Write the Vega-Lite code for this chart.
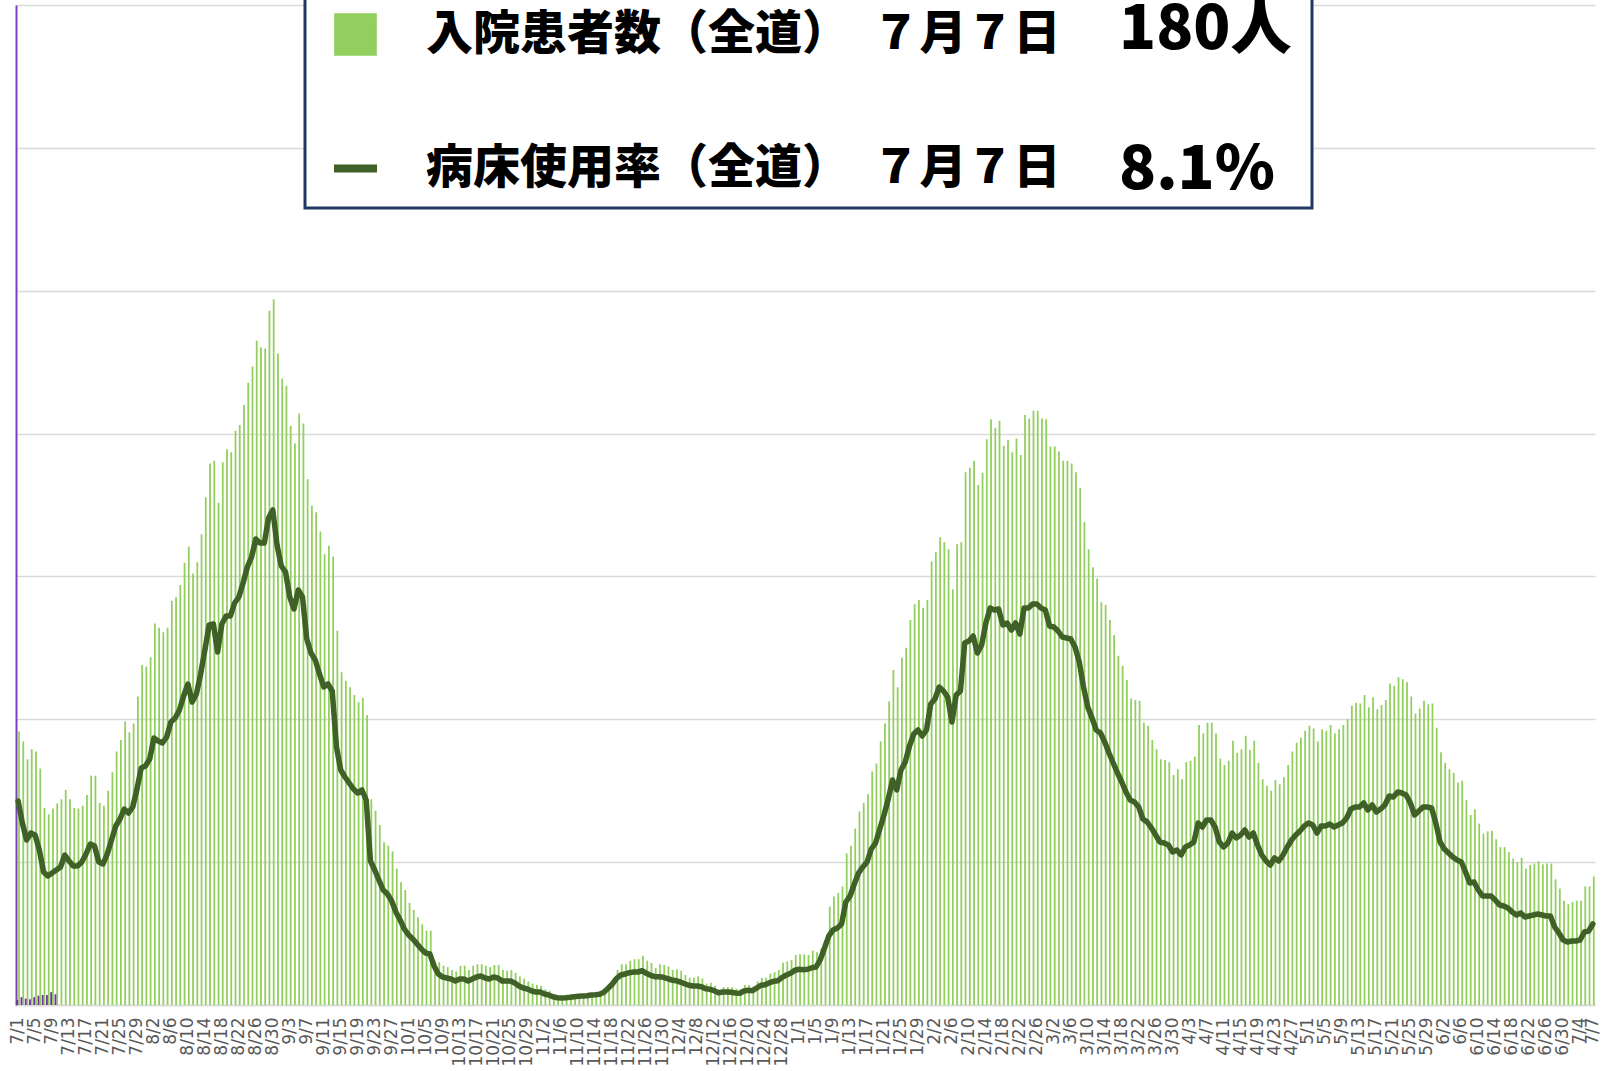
{
  "$schema": "https://vega.github.io/schema/vega-lite/v6.json",
  "width": 1579,
  "height": 1000,
  "autosize": {"type": "none"},
  "padding": {"left": 16, "top": 5, "right": 14, "bottom": 66},
  "background": "white",
  "config": {"view": {"stroke": null}, "font": "DejaVu Sans"},
  "datasets": {"main": [
{"d":"2021-07-01","b":383,"l":20.4,"p":7},{"d":"2021-07-02","b":369,"l":18.2,"p":11},{"d":"2021-07-03","b":344,"l":16.5,"p":9},{"d":"2021-07-04","b":358,"l":17.2,"p":8},{"d":"2021-07-05","b":355,"l":17.0,"p":11},{"d":"2021-07-06","b":331,"l":15.5,"p":13},{"d":"2021-07-07","b":276,"l":13.3,"p":14},{"d":"2021-07-08","b":267,"l":12.9,"p":14},{"d":"2021-07-09","b":275,"l":13.2,"p":18},{"d":"2021-07-10","b":282,"l":13.5,"p":15},
{"d":"2021-07-11","b":288,"l":13.8},{"d":"2021-07-12","b":301,"l":15.0},{"d":"2021-07-13","b":288,"l":14.4},{"d":"2021-07-14","b":276,"l":13.9},{"d":"2021-07-15","b":275,"l":13.9},{"d":"2021-07-16","b":279,"l":14.3},{"d":"2021-07-17","b":294,"l":15.1},{"d":"2021-07-18","b":321,"l":16.1},{"d":"2021-07-19","b":321,"l":15.9},{"d":"2021-07-20","b":283,"l":14.3},
{"d":"2021-07-21","b":279,"l":14.1},{"d":"2021-07-22","b":300,"l":15.1},{"d":"2021-07-23","b":326,"l":16.5},{"d":"2021-07-24","b":355,"l":17.9},{"d":"2021-07-25","b":371,"l":18.6},{"d":"2021-07-26","b":397,"l":19.6},{"d":"2021-07-27","b":382,"l":19.2},{"d":"2021-07-28","b":394,"l":19.8},{"d":"2021-07-29","b":432,"l":21.6},{"d":"2021-07-30","b":476,"l":23.7},{"d":"2021-07-31","b":474,"l":23.9},
{"d":"2021-08-01","b":487,"l":24.6},{"d":"2021-08-02","b":534,"l":26.7},{"d":"2021-08-03","b":528,"l":26.4},{"d":"2021-08-04","b":522,"l":26.2},{"d":"2021-08-05","b":528,"l":26.8},{"d":"2021-08-06","b":566,"l":28.3},{"d":"2021-08-07","b":571,"l":28.7},{"d":"2021-08-08","b":588,"l":29.5},{"d":"2021-08-09","b":619,"l":30.9},{"d":"2021-08-10","b":642,"l":32.1},
{"d":"2021-08-11","b":604,"l":30.3},{"d":"2021-08-12","b":620,"l":31.1},{"d":"2021-08-13","b":659,"l":33.1},{"d":"2021-08-14","b":711,"l":35.5},{"d":"2021-08-15","b":758,"l":38.0},{"d":"2021-08-16","b":762,"l":38.1},{"d":"2021-08-17","b":703,"l":35.3},{"d":"2021-08-18","b":760,"l":38.1},{"d":"2021-08-19","b":778,"l":38.9},{"d":"2021-08-20","b":774,"l":38.9},
{"d":"2021-08-21","b":804,"l":40.2},{"d":"2021-08-22","b":812,"l":40.8},{"d":"2021-08-23","b":840,"l":42.2},{"d":"2021-08-24","b":871,"l":43.8},{"d":"2021-08-25","b":894,"l":44.8},{"d":"2021-08-26","b":930,"l":46.6},{"d":"2021-08-27","b":921,"l":46.2},{"d":"2021-08-28","b":919,"l":46.2},{"d":"2021-08-29","b":972,"l":48.7},{"d":"2021-08-30","b":988,"l":49.5},{"d":"2021-08-31","b":912,"l":46.0},
{"d":"2021-09-01","b":877,"l":43.9},{"d":"2021-09-02","b":867,"l":43.3},{"d":"2021-09-03","b":811,"l":40.8},{"d":"2021-09-04","b":786,"l":39.6},{"d":"2021-09-05","b":828,"l":41.5},{"d":"2021-09-06","b":814,"l":40.8},{"d":"2021-09-07","b":736,"l":36.6},{"d":"2021-09-08","b":699,"l":35.2},{"d":"2021-09-09","b":690,"l":34.5},{"d":"2021-09-10","b":663,"l":33.1},
{"d":"2021-09-11","b":631,"l":31.8},{"d":"2021-09-12","b":643,"l":32.1},{"d":"2021-09-13","b":628,"l":31.4},{"d":"2021-09-14","b":524,"l":25.8},{"d":"2021-09-15","b":466,"l":23.5},{"d":"2021-09-16","b":454,"l":22.8},{"d":"2021-09-17","b":445,"l":22.2},{"d":"2021-09-18","b":434,"l":21.6},{"d":"2021-09-19","b":424,"l":21.2},{"d":"2021-09-20","b":430,"l":21.5},
{"d":"2021-09-21","b":406,"l":20.5},{"d":"2021-09-22","b":288,"l":14.4},{"d":"2021-09-23","b":272,"l":13.5},{"d":"2021-09-24","b":252,"l":12.5},{"d":"2021-09-25","b":228,"l":11.5},{"d":"2021-09-26","b":223,"l":11.1},{"d":"2021-09-27","b":215,"l":10.4},{"d":"2021-09-28","b":191,"l":9.3},{"d":"2021-09-29","b":172,"l":8.5},{"d":"2021-09-30","b":161,"l":7.6},
{"d":"2021-10-01","b":143,"l":7.0},{"d":"2021-10-02","b":133,"l":6.6},{"d":"2021-10-03","b":123,"l":6.1},{"d":"2021-10-04","b":113,"l":5.6},{"d":"2021-10-05","b":104,"l":5.2},{"d":"2021-10-06","b":104,"l":5.1},{"d":"2021-10-07","b":61,"l":3.9},{"d":"2021-10-08","b":60,"l":3.1},{"d":"2021-10-09","b":55,"l":2.8},{"d":"2021-10-10","b":53,"l":2.7},
{"d":"2021-10-11","b":49,"l":2.6},{"d":"2021-10-12","b":47,"l":2.4},{"d":"2021-10-13","b":55,"l":2.6},{"d":"2021-10-14","b":55,"l":2.6},{"d":"2021-10-15","b":49,"l":2.4},{"d":"2021-10-16","b":55,"l":2.6},{"d":"2021-10-17","b":57,"l":2.8},{"d":"2021-10-18","b":57,"l":2.9},{"d":"2021-10-19","b":55,"l":2.7},{"d":"2021-10-20","b":53,"l":2.6},
{"d":"2021-10-21","b":56,"l":2.8},{"d":"2021-10-22","b":56,"l":2.7},{"d":"2021-10-23","b":49,"l":2.4},{"d":"2021-10-24","b":48,"l":2.4},{"d":"2021-10-25","b":49,"l":2.4},{"d":"2021-10-26","b":45,"l":2.2},{"d":"2021-10-27","b":40,"l":1.9},{"d":"2021-10-28","b":37,"l":1.7},{"d":"2021-10-29","b":33,"l":1.6},{"d":"2021-10-30","b":30,"l":1.4},{"d":"2021-10-31","b":28,"l":1.3},
{"d":"2021-11-01","b":27,"l":1.3},{"d":"2021-11-02","b":22,"l":1.1},{"d":"2021-11-03","b":20,"l":1.0},{"d":"2021-11-04","b":12,"l":0.83},{"d":"2021-11-05","b":10,"l":0.73},{"d":"2021-11-06","b":10,"l":0.7},{"d":"2021-11-07","b":11,"l":0.73},{"d":"2021-11-08","b":12,"l":0.77},{"d":"2021-11-09","b":13,"l":0.83},{"d":"2021-11-10","b":14,"l":0.87},
{"d":"2021-11-11","b":14,"l":0.9},{"d":"2021-11-12","b":15,"l":0.93},{"d":"2021-11-13","b":15,"l":1.0},{"d":"2021-11-14","b":16,"l":1.03},{"d":"2021-11-15","b":17,"l":1.07},{"d":"2021-11-16","b":23,"l":1.27},{"d":"2021-11-17","b":28,"l":1.67},{"d":"2021-11-18","b":37,"l":2.1},{"d":"2021-11-19","b":49,"l":2.67},{"d":"2021-11-20","b":57,"l":3.0},
{"d":"2021-11-21","b":57,"l":3.1},{"d":"2021-11-22","b":62,"l":3.23},{"d":"2021-11-23","b":64,"l":3.3},{"d":"2021-11-24","b":64,"l":3.3},{"d":"2021-11-25","b":69,"l":3.43},{"d":"2021-11-26","b":62,"l":3.17},{"d":"2021-11-27","b":59,"l":2.97},{"d":"2021-11-28","b":52,"l":2.83},{"d":"2021-11-29","b":57,"l":2.83},{"d":"2021-11-30","b":56,"l":2.77},
{"d":"2021-12-01","b":54,"l":2.63},{"d":"2021-12-02","b":49,"l":2.5},{"d":"2021-12-03","b":50,"l":2.43},{"d":"2021-12-04","b":48,"l":2.3},{"d":"2021-12-05","b":42,"l":2.13},{"d":"2021-12-06","b":38,"l":1.97},{"d":"2021-12-07","b":38,"l":1.9},{"d":"2021-12-08","b":40,"l":1.9},{"d":"2021-12-09","b":37,"l":1.83},{"d":"2021-12-10","b":30,"l":1.63},
{"d":"2021-12-11","b":31,"l":1.57},{"d":"2021-12-12","b":27,"l":1.43},{"d":"2021-12-13","b":21,"l":1.23},{"d":"2021-12-14","b":25,"l":1.3},{"d":"2021-12-15","b":25,"l":1.3},{"d":"2021-12-16","b":25,"l":1.27},{"d":"2021-12-17","b":23,"l":1.2},{"d":"2021-12-18","b":22,"l":1.17},{"d":"2021-12-19","b":28,"l":1.4},{"d":"2021-12-20","b":28,"l":1.47},
{"d":"2021-12-21","b":26,"l":1.43},{"d":"2021-12-22","b":33,"l":1.7},{"d":"2021-12-23","b":38,"l":1.97},{"d":"2021-12-24","b":38,"l":2.03},{"d":"2021-12-25","b":44,"l":2.23},{"d":"2021-12-26","b":46,"l":2.37},{"d":"2021-12-27","b":49,"l":2.43},{"d":"2021-12-28","b":59,"l":2.77},{"d":"2021-12-29","b":61,"l":3.0},{"d":"2021-12-30","b":63,"l":3.17},{"d":"2021-12-31","b":70,"l":3.47},
{"d":"2022-01-01","b":71,"l":3.57},{"d":"2022-01-02","b":71,"l":3.53},{"d":"2022-01-03","b":70,"l":3.57},{"d":"2022-01-04","b":76,"l":3.73},{"d":"2022-01-05","b":74,"l":3.8},{"d":"2022-01-06","b":79,"l":4.55},{"d":"2022-01-07","b":91,"l":5.73},{"d":"2022-01-08","b":138,"l":6.92},{"d":"2022-01-09","b":152,"l":7.51},{"d":"2022-01-10","b":157,"l":7.71},
{"d":"2022-01-11","b":166,"l":8.1},{"d":"2022-01-12","b":212,"l":10.3},{"d":"2022-01-13","b":223,"l":10.9},{"d":"2022-01-14","b":247,"l":12.1},{"d":"2022-01-15","b":271,"l":13.2},{"d":"2022-01-16","b":283,"l":13.8},{"d":"2022-01-17","b":295,"l":14.3},{"d":"2022-01-18","b":327,"l":15.6},{"d":"2022-01-19","b":338,"l":16.2},{"d":"2022-01-20","b":369,"l":17.6},
{"d":"2022-01-21","b":394,"l":19.0},{"d":"2022-01-22","b":425,"l":20.6},{"d":"2022-01-23","b":469,"l":22.5},{"d":"2022-01-24","b":445,"l":21.5},{"d":"2022-01-25","b":486,"l":23.5},{"d":"2022-01-26","b":500,"l":24.3},{"d":"2022-01-27","b":539,"l":25.9},{"d":"2022-01-28","b":561,"l":27.1},{"d":"2022-01-29","b":567,"l":27.5},{"d":"2022-01-30","b":556,"l":26.9},{"d":"2022-01-31","b":567,"l":27.5},
{"d":"2022-02-01","b":621,"l":30.1},{"d":"2022-02-02","b":634,"l":30.6},{"d":"2022-02-03","b":655,"l":31.8},{"d":"2022-02-04","b":648,"l":31.4},{"d":"2022-02-05","b":638,"l":30.8},{"d":"2022-02-06","b":582,"l":28.3},{"d":"2022-02-07","b":645,"l":31.0},{"d":"2022-02-08","b":648,"l":31.4},{"d":"2022-02-09","b":746,"l":36.2},{"d":"2022-02-10","b":752,"l":36.4},
{"d":"2022-02-11","b":762,"l":36.9},{"d":"2022-02-12","b":728,"l":35.2},{"d":"2022-02-13","b":745,"l":36.0},{"d":"2022-02-14","b":792,"l":38.2},{"d":"2022-02-15","b":820,"l":39.7},{"d":"2022-02-16","b":808,"l":39.5},{"d":"2022-02-17","b":818,"l":39.6},{"d":"2022-02-18","b":783,"l":38.0},{"d":"2022-02-19","b":791,"l":38.2},{"d":"2022-02-20","b":774,"l":37.5},
{"d":"2022-02-21","b":793,"l":38.2},{"d":"2022-02-22","b":770,"l":37.1},{"d":"2022-02-23","b":826,"l":39.7},{"d":"2022-02-24","b":821,"l":39.7},{"d":"2022-02-25","b":832,"l":40.1},{"d":"2022-02-26","b":832,"l":40.1},{"d":"2022-02-27","b":821,"l":39.7},{"d":"2022-02-28","b":820,"l":39.5},
{"d":"2022-03-01","b":782,"l":37.9},{"d":"2022-03-02","b":782,"l":37.8},{"d":"2022-03-03","b":775,"l":37.4},{"d":"2022-03-04","b":762,"l":36.8},{"d":"2022-03-05","b":762,"l":36.7},{"d":"2022-03-06","b":758,"l":36.6},{"d":"2022-03-07","b":746,"l":35.8},{"d":"2022-03-08","b":724,"l":34.3},{"d":"2022-03-09","b":676,"l":31.8},{"d":"2022-03-10","b":638,"l":29.8},
{"d":"2022-03-11","b":613,"l":28.7},{"d":"2022-03-12","b":597,"l":27.5},{"d":"2022-03-13","b":564,"l":27.2},{"d":"2022-03-14","b":560,"l":26.3},{"d":"2022-03-15","b":539,"l":25.2},{"d":"2022-03-16","b":518,"l":24.2},{"d":"2022-03-17","b":489,"l":23.2},{"d":"2022-03-18","b":475,"l":22.3},{"d":"2022-03-19","b":455,"l":21.3},{"d":"2022-03-20","b":429,"l":20.5},
{"d":"2022-03-21","b":427,"l":20.3},{"d":"2022-03-22","b":426,"l":19.8},{"d":"2022-03-23","b":395,"l":18.6},{"d":"2022-03-24","b":391,"l":18.3},{"d":"2022-03-25","b":371,"l":17.7},{"d":"2022-03-26","b":358,"l":17.0},{"d":"2022-03-27","b":344,"l":16.3},{"d":"2022-03-28","b":343,"l":16.2},{"d":"2022-03-29","b":340,"l":16.0},{"d":"2022-03-30","b":322,"l":15.3},{"d":"2022-03-31","b":330,"l":15.5},
{"d":"2022-04-01","b":316,"l":15.0},{"d":"2022-04-02","b":340,"l":15.8},{"d":"2022-04-03","b":342,"l":16.0},{"d":"2022-04-04","b":348,"l":16.3},{"d":"2022-04-05","b":392,"l":18.2},{"d":"2022-04-06","b":380,"l":17.8},{"d":"2022-04-07","b":395,"l":18.5},{"d":"2022-04-08","b":395,"l":18.5},{"d":"2022-04-09","b":380,"l":17.8},{"d":"2022-04-10","b":345,"l":16.3},
{"d":"2022-04-11","b":336,"l":15.8},{"d":"2022-04-12","b":342,"l":16.2},{"d":"2022-04-13","b":370,"l":17.2},{"d":"2022-04-14","b":353,"l":16.7},{"d":"2022-04-15","b":358,"l":17.0},{"d":"2022-04-16","b":377,"l":17.5},{"d":"2022-04-17","b":357,"l":16.8},{"d":"2022-04-18","b":370,"l":17.2},{"d":"2022-04-19","b":339,"l":16.0},{"d":"2022-04-20","b":316,"l":15.0},
{"d":"2022-04-21","b":307,"l":14.4},{"d":"2022-04-22","b":300,"l":14.0},{"d":"2022-04-23","b":315,"l":14.7},{"d":"2022-04-24","b":309,"l":14.4},{"d":"2022-04-25","b":319,"l":15.0},{"d":"2022-04-26","b":336,"l":15.8},{"d":"2022-04-27","b":355,"l":16.5},{"d":"2022-04-28","b":367,"l":17.0},{"d":"2022-04-29","b":374,"l":17.4},{"d":"2022-04-30","b":384,"l":17.9},
{"d":"2022-05-01","b":391,"l":18.2},{"d":"2022-05-02","b":387,"l":18.0},{"d":"2022-05-03","b":369,"l":17.2},{"d":"2022-05-04","b":386,"l":17.9},{"d":"2022-05-05","b":384,"l":17.9},{"d":"2022-05-06","b":392,"l":18.1},{"d":"2022-05-07","b":380,"l":17.8},{"d":"2022-05-08","b":386,"l":18.0},{"d":"2022-05-09","b":392,"l":18.2},{"d":"2022-05-10","b":400,"l":18.7},
{"d":"2022-05-11","b":419,"l":19.6},{"d":"2022-05-12","b":423,"l":19.8},{"d":"2022-05-13","b":422,"l":19.8},{"d":"2022-05-14","b":434,"l":20.2},{"d":"2022-05-15","b":417,"l":19.5},{"d":"2022-05-16","b":431,"l":20.0},{"d":"2022-05-17","b":414,"l":19.3},{"d":"2022-05-18","b":420,"l":19.6},{"d":"2022-05-19","b":427,"l":20.0},{"d":"2022-05-20","b":450,"l":20.9},
{"d":"2022-05-21","b":447,"l":20.8},{"d":"2022-05-22","b":459,"l":21.3},{"d":"2022-05-23","b":456,"l":21.2},{"d":"2022-05-24","b":452,"l":21.0},{"d":"2022-05-25","b":432,"l":20.2},{"d":"2022-05-26","b":408,"l":19.0},{"d":"2022-05-27","b":415,"l":19.4},{"d":"2022-05-28","b":426,"l":19.8},{"d":"2022-05-29","b":421,"l":19.8},{"d":"2022-05-30","b":422,"l":19.7},{"d":"2022-05-31","b":388,"l":18.2},
{"d":"2022-06-01","b":354,"l":16.3},{"d":"2022-06-02","b":339,"l":15.6},{"d":"2022-06-03","b":330,"l":15.2},{"d":"2022-06-04","b":325,"l":14.8},{"d":"2022-06-05","b":311,"l":14.5},{"d":"2022-06-06","b":314,"l":14.3},{"d":"2022-06-07","b":287,"l":13.3},{"d":"2022-06-08","b":266,"l":12.2},{"d":"2022-06-09","b":274,"l":12.3},{"d":"2022-06-10","b":254,"l":11.5},
{"d":"2022-06-11","b":240,"l":10.9},{"d":"2022-06-12","b":243,"l":10.9},{"d":"2022-06-13","b":244,"l":10.9},{"d":"2022-06-14","b":232,"l":10.5},{"d":"2022-06-15","b":221,"l":10.0},{"d":"2022-06-16","b":221,"l":9.9},{"d":"2022-06-17","b":214,"l":9.7},{"d":"2022-06-18","b":205,"l":9.3},{"d":"2022-06-19","b":200,"l":9.0},{"d":"2022-06-20","b":206,"l":9.2},
{"d":"2022-06-21","b":191,"l":8.8},{"d":"2022-06-22","b":196,"l":8.9},{"d":"2022-06-23","b":198,"l":9.0},{"d":"2022-06-24","b":201,"l":9.1},{"d":"2022-06-25","b":197,"l":9.0},{"d":"2022-06-26","b":198,"l":8.9},{"d":"2022-06-27","b":198,"l":8.9},{"d":"2022-06-28","b":176,"l":7.8},{"d":"2022-06-29","b":163,"l":7.2},{"d":"2022-06-30","b":146,"l":6.5},
{"d":"2022-07-01","b":141,"l":6.3},{"d":"2022-07-02","b":144,"l":6.4},{"d":"2022-07-03","b":146,"l":6.4},{"d":"2022-07-04","b":146,"l":6.5},{"d":"2022-07-05","b":166,"l":7.3},{"d":"2022-07-06","b":166,"l":7.4},{"d":"2022-07-07","b":180,"l":8.1}
  ],
  "values": [{"v": "180人"}, {"v": "8.1%"}]},
  "layer": [
    {
      "data": {"name": "main"},
      "mark": {"type": "bar", "width": {"band": 0.42}, "xOffset": 0.9},
      "encoding": {
        "x": {
          "field": "d", "type": "ordinal", "sort": null,
          "scale": {"paddingInner": 0, "paddingOuter": 0},
          "axis": {
            "title": null, "labelAngle": -90, "labelFontSize": 17, "labelFont": "DejaVu Sans",
            "labelColor": "#595959", "ticks": false, "labelPadding": 12,
            "domainColor": "#d9d9d9", "domainWidth": 1.5, "labelOverlap": false, "labelBound": false,
            "labelExpr": "(round((toDate(datum.value) - toDate('2021-07-01')) / 86400000) % 4 == 0 || datum.value == '2022-07-07') ? utcFormat(toDate(datum.value), '%-m/%-d') : ''"
          }
        },
        "y": {
          "field": "b", "type": "quantitative",
          "scale": {"domain": [0, 1400], "nice": false},
          "axis": {
            "title": null, "labels": false, "ticks": false,
            "values": [0, 200, 400, 600, 800, 1000, 1200, 1400],
            "grid": true, "gridColor": "#d9d9d9", "gridWidth": 1.5,
            "domainColor": "#7b3fbf", "domainWidth": 2
          }
        },
        "color": {
          "datum": "入院患者数（全道）　７月７日",
          "scale": {
            "domain": ["入院患者数（全道）　７月７日", "病床使用率（全道）　７月７日"],
            "range": ["#92cf5e", "#3f6127"]
          },
          "legend": {
            "title": "ＸＸＸＸＸ", "titleOrient": "right", "titleColor": "transparent",
            "titleFont": "Noto Sans CJK JP", "titleFontSize": 46, "titlePadding": 98,
            "orient": "none", "legendX": 289, "legendY": -12, "zindex": 0,
            "labelFont": "Noto Sans CJK JP", "labelFontSize": 47, "labelFontWeight": 900,
            "labelColor": "#000000", "labelLimit": 3000, "labelOffset": 45,
            "rowPadding": 75, "padding": 16, "symbolOffset": 9,
            "strokeColor": "#203864", "fillColor": "white",
            "symbolSize": 1600,
            "encode": {
              "symbols": {"update": {
                "shape": {"signal": "datum.value === '入院患者数（全道）　７月７日' ? 'square' : 'stroke'"},
                "fill": {"signal": "datum.value === '入院患者数（全道）　７月７日' ? '#a9d18e' : 'transparent'"},
                "stroke": {"signal": "datum.value === '入院患者数（全道）　７月７日' ? 'transparent' : '#3f6127'"},
                "strokeWidth": {"value": 8},
                "size": {"signal": "datum.value === '入院患者数（全道）　７月７日' ? 1200 : 1849"},
                "opacity": {"value": 1}
              }},
              "legend": {"update": {"strokeWidth": {"value": 3}}}
            }
          }
        }
      }
    },
    {
      "data": {"name": "main"},
      "mark": {"type": "bar", "width": {"band": 0.42}, "xOffset": -0.9, "color": "#7030a0"},
      "encoding": {
        "x": {"field": "d", "type": "ordinal", "sort": null},
        "y": {"field": "p", "type": "quantitative", "scale": {"domain": [0, 1400], "nice": false}, "axis": null}
      }
    },
    {
      "data": {"name": "main"},
      "mark": {"type": "line", "strokeWidth": 5.5, "strokeJoin": "round", "strokeCap": "round"},
      "encoding": {
        "x": {"field": "d", "type": "ordinal", "sort": null},
        "y": {"field": "l", "type": "quantitative", "scale": {"domain": [0, 100], "nice": false}, "axis": null},
        "color": {"datum": "病床使用率（全道）　７月７日"}
      }
    },
    {
      "data": {"name": "values"},
      "mark": {"type": "point", "opacity": 0},
      "encoding": {
        "shape": {
          "field": "v", "type": "nominal",
          "scale": {"domain": ["180人", "8.1%"], "range": ["circle", "circle"]},
          "legend": {
            "title": null, "orient": "none", "legendX": 1042, "legendY": -5, "zindex": 1,
            "labelFont": "Noto Sans CJK JP", "labelFontSize": 61, "labelFontWeight": 900,
            "labelColor": "#000000", "labelLimit": 1000, "labelOffset": 0, "padding": 0, "rowPadding": 78,
            "symbolSize": 0, "symbolOpacity": 0, "symbolStrokeWidth": 0
          }
        }
      }
    }
  ],
  "resolve": {"scale": {"y": "independent"}}
}
